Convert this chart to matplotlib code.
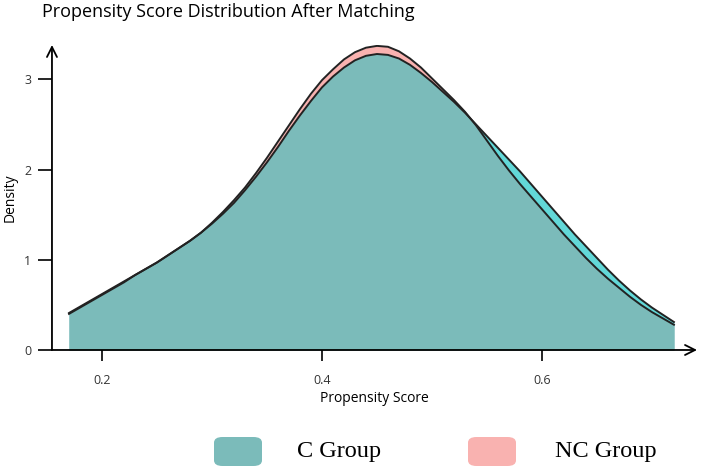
import numpy as np
import matplotlib
matplotlib.use("Agg")
import matplotlib.pyplot as plt
from matplotlib.patches import FancyBboxPatch

# Data (KDE curves after matching)
score = [0.17, 0.18, 0.19, 0.20, 0.21, 0.22, 0.23, 0.24, 0.25, 0.26,
         0.27, 0.28, 0.29, 0.30, 0.31, 0.32, 0.33, 0.34, 0.35, 0.36,
         0.37, 0.38, 0.39, 0.40, 0.41, 0.42, 0.43, 0.44, 0.45, 0.46,
         0.47, 0.48, 0.49, 0.50, 0.51, 0.52, 0.53, 0.54, 0.55, 0.56,
         0.57, 0.58, 0.59, 0.60, 0.61, 0.62, 0.63, 0.64, 0.65, 0.66,
         0.67, 0.68, 0.69, 0.70, 0.71, 0.72]
c_group = [0.40, 0.47, 0.54, 0.61, 0.68, 0.75, 0.83, 0.90, 0.97, 1.05,
           1.13, 1.21, 1.30, 1.40, 1.51, 1.63, 1.77, 1.92, 2.08, 2.25,
           2.43, 2.60, 2.76, 2.91, 3.03, 3.13, 3.21, 3.26, 3.28, 3.27,
           3.23, 3.16, 3.07, 2.97, 2.86, 2.75, 2.63, 2.50, 2.37, 2.24,
           2.11, 1.98, 1.84, 1.70, 1.56, 1.42, 1.28, 1.15, 1.02, 0.89,
           0.77, 0.66, 0.56, 0.47, 0.39, 0.31]
nc_group = [0.41, 0.48, 0.55, 0.62, 0.69, 0.76, 0.83, 0.90, 0.97, 1.05,
            1.13, 1.21, 1.30, 1.41, 1.53, 1.66, 1.80, 1.96, 2.13, 2.31,
            2.49, 2.67, 2.84, 2.99, 3.11, 3.22, 3.30, 3.35, 3.37, 3.36,
            3.31, 3.23, 3.13, 3.01, 2.89, 2.77, 2.64, 2.49, 2.32, 2.15,
            1.99, 1.84, 1.70, 1.56, 1.42, 1.28, 1.15, 1.02, 0.90, 0.79,
            0.69, 0.59, 0.50, 0.42, 0.35, 0.28]
labels = ["C Group", "NC Group"]

teal = "#7bbbba"
cyan = "#62d8d8"
pink = "#f9b2b0"

x = np.array(score)
c = np.array(c_group)
nc = np.array(nc_group)

fig = plt.figure(figsize=(7.08, 4.72), dpi=100)
ax = fig.add_axes([0.0734, 0.2585, 0.9111, 0.6462])

ax.fill_between(x, 0, nc, color=pink, lw=0)
ax.fill_between(x, 0, c, color=cyan, lw=0)
ax.fill_between(x, 0, np.minimum(c, nc), color=teal, lw=0)
ax.plot(x, nc, color="#222222", lw=1.4, solid_joinstyle="round")
ax.plot(x, c, color="#222222", lw=1.4, solid_joinstyle="round")

ax.set_xlim(0.1545, 0.741)
ax.set_ylim(0, 3.38)
for s in ax.spines.values():
    s.set_visible(False)

# axis arrows
ax.annotate("", xy=(1, 0), xytext=(0, 0), xycoords="axes fraction",
            arrowprops=dict(arrowstyle="->", color="black", lw=1.3,
                            mutation_scale=18, shrinkA=0, shrinkB=0))
ax.annotate("", xy=(0, 1), xytext=(0, 0), xycoords="axes fraction",
            arrowprops=dict(arrowstyle="->", color="black", lw=1.3,
                            mutation_scale=18, shrinkA=0, shrinkB=0))

ax.set_xticks([0.2, 0.4, 0.6])
ax.set_yticks([0, 1, 2, 3])
ax.tick_params(axis="both", direction="out", width=1.2,
               color="black", labelsize=9, labelcolor="#333333")
ax.tick_params(axis="x", length=8, pad=9)
ax.tick_params(axis="y", length=10, pad=5)
for lab in ax.get_xticklabels() + ax.get_yticklabels():
    lab.set_family("Open Sans")

ax.set_xlabel("Propensity Score", fontsize=10, family="Open Sans", labelpad=3)
ax.set_ylabel("Density", fontsize=10, family="Open Sans")
ax.yaxis.set_label_coords(-0.054, 0.5)

fig.text(0.059, 0.974, "Propensity Score Distribution After Matching",
         fontsize=13, family="Open Sans", va="center", ha="left")

# legend drawn by hand
for px, col, lab, tx in [(214, teal, labels[0], 297), (468, pink, labels[1], 555)]:
    box = FancyBboxPatch((px / 708, 1 - 466 / 472), 48 / 708, 29 / 472,
                         boxstyle="round,pad=0,rounding_size=0.012",
                         transform=fig.transFigure, facecolor=col,
                         edgecolor="none")
    fig.patches.append(box)
    fig.text(tx / 708, 1 - 452 / 472, lab, fontsize=17.5,
             family="Liberation Serif", va="center", ha="left")

fig.savefig("out.png", dpi=100)
